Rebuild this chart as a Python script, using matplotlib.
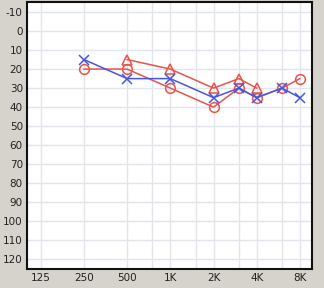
import numpy as np
import matplotlib
matplotlib.use('Agg')
import matplotlib.pyplot as plt

# audiogram data (Hz, dB HL)
freqs_x = [250, 500, 1000, 2000, 3000, 4000, 6000, 8000]
db_x = [15, 25, 25, 35, 30, 35, 30, 35]

freqs_o = [250, 500, 1000, 2000, 3000, 4000, 6000, 8000]
db_o = [20, 20, 30, 40, 30, 35, 30, 25]

freqs_tri = [500, 1000, 2000, 3000, 4000]
db_tri = [15, 20, 30, 25, 30]

tick_freqs = [125, 250, 500, 1000, 2000, 4000, 8000]
tick_labels = ['125', '250', '500', '1K', '2K', '4K', '8K']
grid_freqs = [125, 250, 500, 750, 1000, 1500, 2000, 3000, 4000, 6000, 8000]
db_ticks = list(range(-10, 121, 10))

bg = '#d6d3cc'
red = '#e8544a'
blue = '#4656e0'

fig = plt.figure(figsize=(3.24, 2.88), dpi=100, facecolor=bg)
ax = fig.add_axes([27 / 324, 1 - 269 / 288, 285 / 324, 267.5 / 288])
ax.set_facecolor('white')

ax.set_xscale('log', base=2)
ax.set_xlim(125 * 2 ** -0.32, 8000 * 2 ** 0.28)
ax.set_ylim(125, -15.5)

for f in grid_freqs:
    ax.axvline(f, color='#e3e5ec', lw=1, zorder=0)
for d in db_ticks:
    ax.axhline(d, color='#e3e5ec', lw=1, zorder=0)

ax.plot(freqs_tri, db_tri, color=red, lw=1.1, marker='^', ms=7,
        mfc='none', mec=red, mew=1.1)
ax.plot(freqs_o, db_o, color=red, lw=1.1, marker='o', ms=7,
        mfc='none', mec=red, mew=1.1)
ax.plot(freqs_x, db_x, color=blue, lw=1.1, marker='x', ms=7,
        mec=blue, mew=1.1)

ax.set_xticks(tick_freqs)
ax.set_xticklabels(tick_labels)
ax.minorticks_off()
ax.set_yticks(db_ticks)
ax.set_yticklabels([str(d) for d in db_ticks])
ax.tick_params(length=0, labelsize=7.5, labelcolor='#222222', pad=3)

for s in ax.spines.values():
    s.set_color('#111111')
    s.set_linewidth(1.5)

fig.savefig('out.png', dpi=100, facecolor=bg)
